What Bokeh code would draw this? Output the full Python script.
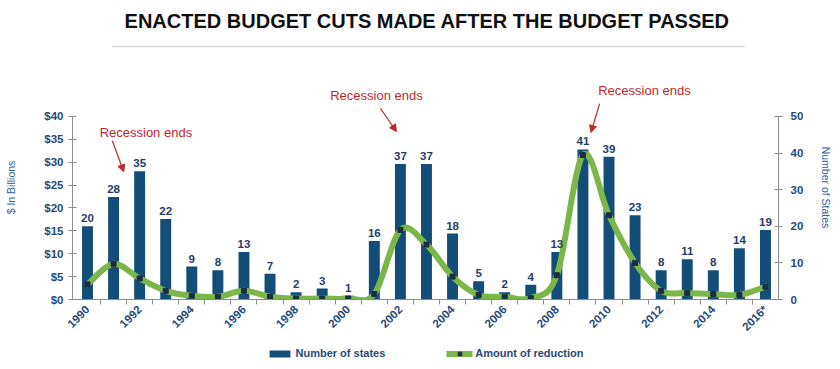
import numpy as np
from bokeh.plotting import figure
from bokeh.layouts import column
from bokeh.models import (Range1d, LinearAxis, FixedTicker, PrintfTickFormatter,
                          Legend, LegendItem, Arrow, NormalHead, Label)
from bokeh.core.properties import value
from bokeh.embed import file_html
from bokeh.resources import INLINE

# ---------------- data ----------------
years = [1990, 1991, 1992, 1993, 1994, 1995, 1996, 1997, 1998, 1999, 2000,
         2001, 2002, 2003, 2004, 2005, 2006, 2007, 2008, 2009, 2010, 2011,
         2012, 2013, 2014, 2015, 2016]
num_states = [20, 28, 35, 22, 9, 8, 13, 7, 2, 3, 1, 16, 37, 37, 18, 5, 2, 4,
              13, 41, 39, 23, 8, 11, 8, 14, 19]
amount_billions = [3.3, 7.8, 4.6, 1.9, 0.8, 0.6, 1.9, 0.6, 0.2, 0.2, 0.2, 1.2,
                   15.2, 12.0, 5.0, 1.0, 0.6, 0.3, 5.3, 31.6, 18.4, 8.0, 1.9,
                   1.4, 1.2, 1.0, 2.8]
label_years = [1990, 1992, 1994, 1996, 1998, 2000, 2002, 2004, 2006, 2008,
               2010, 2012, 2014, 2016]
tick_labels = ["1990", "1992", "1994", "1996", "1998", "2000", "2002", "2004",
               "2006", "2008", "2010", "2012", "2014", "2016*"]
dollar_ticks = [0, 5, 10, 15, 20, 25, 30, 35, 40]
state_ticks = [0, 10, 20, 30, 40, 50]
annot_text = "Recession ends"
title_text = "ENACTED BUDGET CUTS MADE AFTER THE BUDGET PASSED"

FONT = "Liberation Sans"
BAR = "#124E78"
GREEN = "#7AB648"
NAVY = "#1F3D6B"
TICKC = "#26497A"
LABC = "#2F5F9A"
RED = "#C0272D"
MARK = "#1A2C48"
W = 838
TH = 58

# ---------------- title strip (pixel-unit ranges) ----------------
top = figure(width=W, height=TH, x_range=(0, W), y_range=(0, TH),
             x_axis_type=None, y_axis_type=None, toolbar_location=None,
             output_backend="svg", min_border=0, min_border_left=0,
             min_border_right=0, min_border_top=0, min_border_bottom=0,
             outline_line_color=None)
top.segment(x0=[47], y0=[TH - 46], x1=[798], y1=[TH - 46],
            line_color="#D9D9D9", line_width=1.5)
top.add_layout(Label(x=421, y=TH - 20, text=title_text, text_align="center",
                     text_baseline="middle", text_font=FONT,
                     text_font_size="20px", text_font_style="bold",
                     text_color="#111111"))

# ---------------- main chart ----------------
p = figure(width=W, height=282, toolbar_location=None, output_backend="svg",
           x_range=Range1d(1989.425, 2016.5), y_range=Range1d(0, 48.95),
           min_border=0, min_border_left=72, min_border_right=W - 778,
           min_border_top=17, min_border_bottom=38, outline_line_color=None)
p.extra_y_ranges = {"states": Range1d(0, 61.19)}
p.xgrid.visible = False
p.ygrid.visible = False

# bars (number of states, right axis)
p.vbar(x=years, top=num_states, width=0.42, y_range_name="states",
       fill_color=BAR, line_color=None)

# smooth curve through the amount points (Catmull-Rom -> cubic Bezier)
xs = np.array(years, dtype=float)
ys = np.array(amount_billions, dtype=float)
xe = np.concatenate([[xs[0]], xs, [xs[-1]]])
ye = np.concatenate([[ys[0]], ys, [ys[-1]]])
x0, y0 = xs[:-1], ys[:-1]
x1, y1 = xs[1:], ys[1:]
cx0 = xe[1:-2] + (xe[2:-1] - xe[0:-3]) / 6.0
cy0 = ye[1:-2] + (ye[2:-1] - ye[0:-3]) / 6.0
cx1 = xe[2:-1] - (xe[3:] - xe[1:-2]) / 6.0
cy1 = ye[2:-1] - (ye[3:] - ye[1:-2]) / 6.0
p.bezier(x0=x0, y0=y0, x1=x1, y1=y1, cx0=cx0, cy0=cy0, cx1=cx1, cy1=cy1,
         line_color=GREEN, line_width=6, line_cap="round")
p.scatter(x=years, y=amount_billions, marker="square", size=5,
          fill_color=MARK, line_color=MARK)

# value labels above bars
p.text(x=years, y=num_states, text=[str(v) for v in num_states],
       y_range_name="states", text_align="center", text_baseline="alphabetic",
       y_offset=-8, text_font=value(FONT), text_font_size="11.5px",
       text_font_style="bold", text_color=NAVY)

# recession annotations
for tx, ty in [(1992.24, 36.6), (2001.08, 44.6), (2011.36, 45.6)]:
    p.add_layout(Label(x=tx, y=ty, text=annot_text, text_align="center",
                       text_baseline="middle", text_font=FONT,
                       text_font_size="13px", text_color=RED))
for (xa0, ya0, xb0, yb0) in [(1990.95, 34.7, 1991.39, 27.9),
                             (2001.23, 41.8, 2001.85, 36.7),
                             (2009.64, 42.8, 2009.31, 36.5)]:
    p.add_layout(Arrow(x_start=xa0, y_start=ya0, x_end=xb0, y_end=yb0,
                       line_color=RED, line_width=1.2,
                       end=NormalHead(size=7, fill_color=RED, line_color=RED)))

# left axis ($)
la = p.yaxis[0]
la.ticker = FixedTicker(ticks=dollar_ticks)
la.formatter = PrintfTickFormatter(format="$%d")
la.bounds = (0, 40)
la.axis_label = "$ In Billions"

ra = LinearAxis(y_range_name="states", ticker=FixedTicker(ticks=state_ticks),
                bounds=(0, 50), axis_label="Number of States")
p.add_layout(ra, "right")

for ax, st, ls in ((la, 5, 24), (ra, 8, 14)):
    ax.axis_line_color = "#8C8C8C"
    ax.major_tick_line_color = "#8C8C8C"
    ax.major_tick_in = 4
    ax.major_tick_out = 4
    ax.minor_tick_line_color = None
    ax.major_label_standoff = st
    ax.major_label_text_font = FONT
    ax.major_label_text_font_size = "11.5px"
    ax.major_label_text_font_style = "bold"
    ax.major_label_text_color = TICKC
    ax.axis_label_standoff = ls
    ax.axis_label_text_font = FONT
    ax.axis_label_text_font_size = "10.5px"
    ax.axis_label_text_font_style = "normal"
    ax.axis_label_text_color = LABC

# x axis
xa = p.xaxis[0]
xa.ticker = FixedTicker(ticks=label_years,
                        minor_ticks=[y + 0.5 for y in years[:-1]])
xa.major_label_overrides = {yr: lab for yr, lab in zip(label_years, tick_labels)}
xa.major_label_orientation = float(np.pi / 4)
xa.axis_line_color = "#8C8C8C"
xa.major_tick_line_color = None
xa.major_tick_out = 5
xa.major_tick_in = 0
xa.minor_tick_line_color = "#8C8C8C"
xa.minor_tick_out = 5
xa.minor_tick_in = 0
xa.major_label_standoff = 3
xa.major_label_text_font = FONT
xa.major_label_text_font_size = "11.5px"
xa.major_label_text_font_style = "bold"
xa.major_label_text_color = TICKC

# ---------------- legend strip ----------------
leg = figure(width=W, height=26, x_range=(0, 1), y_range=(0, 1),
             x_axis_type=None, y_axis_type=None, toolbar_location=None,
             output_backend="svg", min_border=0, min_border_left=72,
             min_border_right=W - 778, outline_line_color=None)
# legend-only renderers (hidden; they only supply the legend swatches)
lb = leg.vbar(x=years, top=num_states, width=0.42, fill_color=BAR,
              line_color=None, visible=False)
ll = leg.line(x=years, y=amount_billions, line_color=GREEN, line_width=6,
              line_cap="round", visible=False)
lp = leg.scatter(x=years, y=amount_billions, marker="square", size=5,
                 fill_color=MARK, line_color=MARK, visible=False)
legend = Legend(items=[LegendItem(label="Number of states", renderers=[lb]),
                       LegendItem(label="Amount of reduction",
                                  renderers=[ll, lp])],
                orientation="horizontal", location="center",
                label_text_font=FONT, label_text_font_size="11px",
                label_text_font_style="bold", label_text_color=TICKC,
                glyph_width=26, glyph_height=9, label_height=12,
                label_standoff=3, spacing=61, padding=2, margin=0,
                border_line_color=None, background_fill_alpha=0)
leg.add_layout(legend, "center")

layout = column(top, p, leg, spacing=0)
open("out.html", "w").write(file_html(layout, INLINE))
